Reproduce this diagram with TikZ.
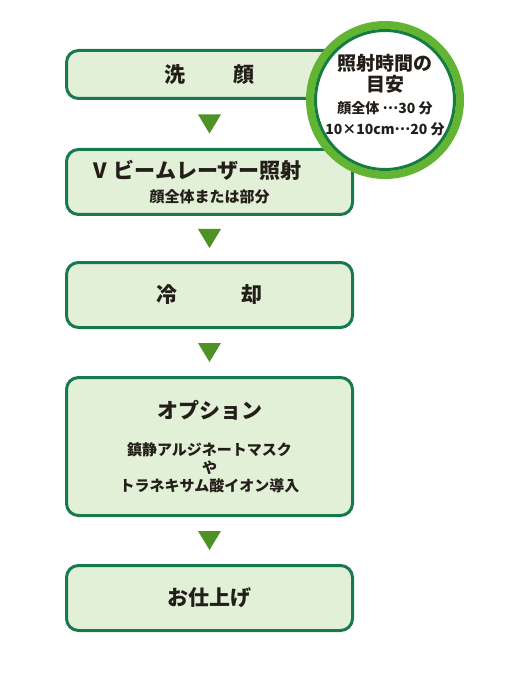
\documentclass[tikz,border=0pt]{standalone}
\usepackage{fontspec}
\setmainfont{Noto Sans CJK JP}
\usetikzlibrary{calc}

\definecolor{boxline}{RGB}{22,122,78}
\definecolor{boxfill}{RGB}{226,240,216}
\definecolor{arrowgreen}{RGB}{78,145,36}
\definecolor{ringlight}{RGB}{98,180,50}
\definecolor{ringdark}{RGB}{20,125,62}
\definecolor{textdark}{RGB}{35,30,25}

\newcommand{\smalltxt}{\fontsize{15}{18}\selectfont}
\newcommand{\middots}{\raisebox{4pt}{…}}

\tikzset{
  stepbox/.style={draw=boxline, fill=boxfill, line width=3pt, rounded corners=12pt,
    minimum width=286pt, text=textdark, align=center,
    font=\bfseries\fontsize{21}{24}\selectfont},
  guidering/.style={circle, draw=ringlight, fill=white, line width=8pt, minimum size=150pt}
}

\begin{document}
\begin{tikzpicture}[x=1pt, y=1pt]

  % Canvas
  \useasboundingbox (0,0) rectangle (508,-684);

  % Steps of the treatment
  \node[stepbox, minimum height=48pt] (wash) at (209.5,-74.5) {洗\hspace{48pt}顔};
  \node[stepbox, minimum height=65pt] (laser) at (209.5,-182)
    {V\hspace{7pt}ビームレーザー照射\hspace*{24pt}\\[0pt]{\smalltxt 顔全体または部分}};
  \node[stepbox, minimum height=65pt] (cool) at (209.5,-295) {冷\hspace{64pt}却};
  \node[stepbox, minimum height=138pt] (option) at (209.5,-446.5)
    {オプション\\[13pt]{\smalltxt 鎮静アルジネートマスク}\\[-6pt]{\smalltxt や}\\[-6pt]{\smalltxt トラネキサム酸イオン導入}};
  \node[stepbox, minimum height=65pt] (finish) at (209.5,-598) {お仕上げ};

  % Triangles between the steps
  \foreach \a/\b in {wash/laser, laser/cool, cool/option, option/finish}
    \fill[arrowgreen] ($(\a.south)!0.5!(\b.north)$) ++(-11.5,9.5) -- ++(23,0) -- ++(-11.5,-19) -- cycle;

  % Guide to the irradiation time
  \node[guidering] (guide) at (385,-100) {};
  \draw[ringdark, line width=3pt] (guide.center) circle (69.5pt);
  \node[text=textdark, align=center, font=\bfseries\fontsize{19}{21}\selectfont] (guidetext) at (385,-95)
    {照射時間の\\目安\\[1pt]{\fontsize{14}{20}\selectfont 顔全体 \middots30 分}\\{\fontsize{14}{20}\selectfont 10×10cm\middots20 分}};

\end{tikzpicture}
\end{document}
